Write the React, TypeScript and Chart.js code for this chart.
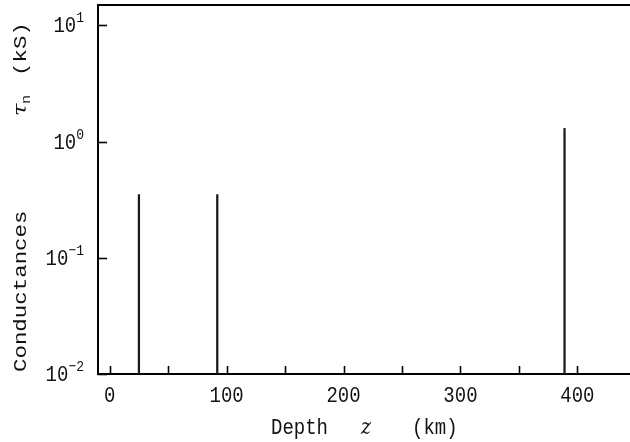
import React, { useEffect, useRef } from 'react';
import { Chart, registerables } from 'chart.js';

Chart.register(...registerables);

// ---- data ----
const depthsKm = [25, 92, 389];
const conductancesKS = [0.35, 0.35, 1.3];

const xLabelValues = [0, 100, 200, 300, 400];
const xTickLabels = ['0', '100', '200', '300', '400'];
const xMinorTicks = [50, 150, 250, 350];

const yTickValues = [0.01, 0.1, 1, 10];
const yTickExponents = ['\u22122', '\u22121', '0', '1'];

const xTitleParts = ['Depth', 'z', '(km)'];
const yTitleParts = ['Conductances', '\u03C4', 'n', '(kS)'];

const MONO = '"Liberation Mono", "DejaVu Sans Mono", monospace';
const INK = '#111';
const SY = 1.18;

function drawH(ctx: CanvasRenderingContext2D, text: string, x: number, y: number, font: string, align: CanvasTextAlign = 'left') {
  ctx.save();
  ctx.font = font;
  ctx.textAlign = align;
  ctx.textBaseline = 'alphabetic';
  ctx.fillStyle = INK;
  ctx.translate(x, y);
  ctx.scale(1, SY);
  ctx.fillText(text, 0, 0);
  ctx.restore();
}

function drawV(ctx: CanvasRenderingContext2D, text: string, x: number, y: number, font: string) {
  ctx.save();
  ctx.font = font;
  ctx.textAlign = 'left';
  ctx.textBaseline = 'alphabetic';
  ctx.fillStyle = INK;
  ctx.translate(x, y);
  ctx.rotate(-Math.PI / 2);
  ctx.scale(SY, 1);
  ctx.fillText(text, 0, 0);
  ctx.restore();
}

const decorPlugin = {
  id: 'decor',
  afterDraw(chart: any) {
    const ctx: CanvasRenderingContext2D = chart.ctx;
    const { left, right, top, bottom } = chart.chartArea;
    const xs = chart.scales.x;
    const ys = chart.scales.y;
    ctx.save();
    ctx.strokeStyle = '#000';
    ctx.lineWidth = 2;
    // top frame line
    ctx.beginPath();
    ctx.moveTo(left - 1, top);
    ctx.lineTo(right, top);
    ctx.stroke();
    // y ticks (inward)
    ctx.lineWidth = 1.6;
    yTickValues.forEach((v) => {
      const py = Math.round(ys.getPixelForValue(v)) + 0.5;
      ctx.beginPath();
      ctx.moveTo(left, py);
      ctx.lineTo(left + 9, py);
      ctx.stroke();
    });
    // x ticks (inward)
    [...xLabelValues, ...xMinorTicks].forEach((v) => {
      const px = Math.round(xs.getPixelForValue(v)) + 0.5;
      ctx.beginPath();
      ctx.moveTo(px, bottom);
      ctx.lineTo(px, bottom - 8);
      ctx.stroke();
    });
    ctx.restore();

    // y tick labels 10^n
    const bigFont = `19px ${MONO}`;
    const supFont = `13px ${MONO}`;
    const labelRight = 84;
    yTickValues.forEach((v, i) => {
      const py = ys.getPixelForValue(v);
      ctx.save();
      ctx.font = supFont;
      const ew = ctx.measureText(yTickExponents[i]).width;
      ctx.restore();
      drawH(ctx, yTickExponents[i], labelRight - ew, py - 3, supFont);
      drawH(ctx, '10', labelRight - ew, py + 7, bigFont, 'right');
    });

    // x tick labels
    xLabelValues.forEach((v, i) => {
      const px = xs.getPixelForValue(v);
      drawH(ctx, xTickLabels[i], px, 402, bigFont, 'center');
    });

    // x title
    drawH(ctx, xTitleParts[0], 271, 434, bigFont);
    drawH(ctx, xTitleParts[1], 361, 434, `italic 19px "DejaVu Serif", serif`);
    drawH(ctx, xTitleParts[2], 412, 434, bigFont);

    // y title (rotated)
    drawV(ctx, yTitleParts[0], 26, 372, bigFont);
    drawV(ctx, yTitleParts[1], 26, 116, `italic 19px "DejaVu Serif", serif`);
    drawV(ctx, yTitleParts[2], 30, 104, `13px ${MONO}`);
    drawV(ctx, yTitleParts[3], 26, 76, bigFont);
  },
};

export default function App() {
  const ref = useRef<HTMLCanvasElement | null>(null);
  useEffect(() => {
    if (!ref.current) return;
    const chart = new Chart(ref.current, {
      type: 'bar',
      data: {
        datasets: [
          {
            data: depthsKm.map((x, i) => ({ x, y: conductancesKS[i] })),
            backgroundColor: '#1a1a1a',
            borderWidth: 0,
            barThickness: 1.6,
          } as any,
        ],
      },
      options: {
        responsive: false,
        animation: false,
        devicePixelRatio: 1,
        layout: { padding: { top: 5, right: 0, left: 0, bottom: 0 } },
        plugins: { legend: { display: false }, tooltip: { enabled: false } },
        scales: {
          x: {
            type: 'linear',
            offset: false,
            min: -10,
            max: 445,
            grid: { display: false, drawTicks: false, offset: false },
            border: { display: true, color: '#000', width: 2 },
            ticks: { display: false },
            afterFit: (s: any) => {
              s.height = 68;
            },
          },
          y: {
            type: 'logarithmic',
            min: 0.01,
            max: 15,
            grid: { display: false, drawTicks: false },
            border: { display: true, color: '#000', width: 2 },
            ticks: { display: false },
            afterFit: (s: any) => {
              s.width = 98;
            },
          },
        },
      } as any,
      plugins: [decorPlugin],
    });
    return () => chart.destroy();
  }, []);
  return (
    <div style={{ position: 'absolute', left: 0, top: 0, width: 630, height: 442, background: '#fff' }}>
      <canvas ref={ref} width={630} height={442} style={{ display: 'block' }} />
    </div>
  );
}
